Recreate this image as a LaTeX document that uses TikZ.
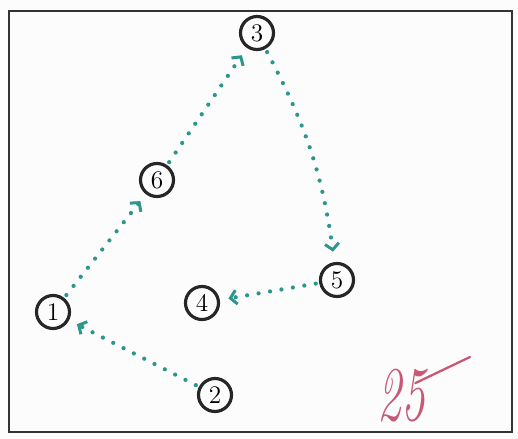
\documentclass[tikz,border=0pt]{standalone}
\usetikzlibrary{arrows.meta}
\definecolor{hopteal}{RGB}{44,150,138}
\definecolor{inkred}{RGB}{200,88,118}

\begin{document}
\begin{tikzpicture}[x=0.02cm, y=-0.02cm,
    station/.style={circle, draw=black!85, line width=1.8pt, minimum size=0.66cm, inner sep=0pt, font=\Large},
    hop/.style={hopteal, line width=2.4pt, line cap=round, dash pattern=on 0pt off 6.6pt,
      -{Straight Barb[length=3.5pt, width=8pt, line width=1.7pt]}, shorten >=5pt, shorten <=2pt}]
  \useasboundingbox (0,0) rectangle (518,439);
  \fill[black!1] (0,0) rectangle (518,439);
  \draw[line width=1.3pt, black!80] (9,11) rectangle (512,432);

  % stations
  \node[station] (n1) at (53,312) {1};
  \node[station] (n2) at (215,395) {2};
  \node[station] (n3) at (257,33) {3};
  \node[station] (n4) at (202,303) {4};
  \node[station] (n5) at (337,280) {5};
  \node[station] (n6) at (157,180) {6};

  % route
  \draw[hop] (n2) -- (n1);
  \draw[hop] (n1) -- (n6);
  \draw[hop] (n6) -- (n3);
  \draw[hop, shorten >=6pt] (n3) to[bend left=10] (n5);
  \draw[hop] (n5) -- (n4);

  % mark
  \node[inkred, font=\itshape\fontsize{44}{44}\selectfont, inner sep=0pt] (mark) at (401,396) {\scalebox{0.62}[1]{25}};
  \draw[inkred, line width=1.3pt, line cap=round] (mark.north east) ++(-10,14) -- (470,357);
\end{tikzpicture}
\end{document}
